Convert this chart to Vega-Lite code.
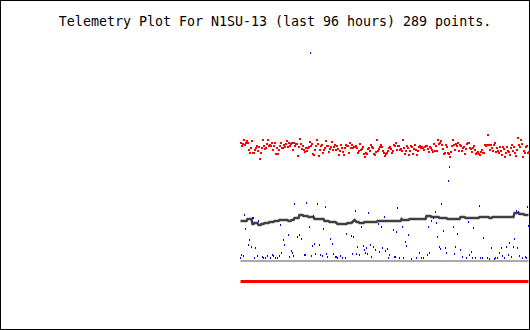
{
"$schema": "https://vega.github.io/schema/vega-lite/v6.json",
"width": 530, "height": 330, "autosize": {"type": "none"}, "padding": 0,
"background": "white",
"config": {"view": {"stroke": "black", "strokeWidth": 2}},
"title": {"text": "Telemetry Plot For N1SU-13 (last 96 hours) 289 points.", "font": "DejaVu Sans Mono", "fontSize": 13.3, "fontWeight": "normal", "color": "black", "anchor": "middle", "dx": 10, "dy": 17, "offset": -22, "baseline": "alphabetic"},
"datasets": {
"lvl": [{"n":0,"g":261,"z":281.5},{"n":288,"g":261,"z":281.5}],
"tele": [
{"n":0,"r":143,"b":258,"d":221},{"n":1,"r":146,"b":255,"d":221},{"n":2,"r":144,"b":261,"d":221},{"n":3,"r":140,"b":256,"d":221},{"n":4,"r":145,"b":215,"d":221},{"n":5,"r":143,"b":229,"d":221},{"n":6,"r":141,"b":261,"d":221},{"n":7,"r":143,"b":261,"d":219},{"n":8,"r":150,"b":245,"d":219},{"n":9,"r":153,"b":240,"d":219},
{"n":10,"r":148,"b":261,"d":219},{"n":11,"r":141,"b":247,"d":219},{"n":12,"r":153,"b":218,"d":224},{"n":13,"r":153,"b":218,"d":224},{"n":14,"r":150,"b":258,"d":223},{"n":15,"r":148,"b":248,"d":223},{"n":16,"r":146,"b":261,"d":223},{"n":17,"r":151,"b":256,"d":223},{"n":18,"r":147,"b":221,"d":225},{"n":19,"r":159,"b":261,"d":225},
{"n":20,"r":153,"b":261,"d":225},{"n":21,"r":148,"b":261,"d":224},{"n":22,"r":140,"b":257,"d":224},{"n":23,"r":146,"b":258,"d":224},{"n":24,"r":149,"b":261,"d":223},{"n":25,"r":148,"b":258,"d":223},{"n":26,"r":144,"b":261,"d":223},{"n":27,"r":140,"b":256,"d":223},{"n":28,"r":146,"b":261,"d":223},{"n":29,"r":145,"b":261,"d":222},
{"n":30,"r":146,"b":258,"d":222},{"n":31,"r":143,"b":261,"d":222},{"n":32,"r":150,"b":255,"d":222},{"n":33,"r":146,"b":256,"d":222},{"n":34,"r":143,"b":261,"d":221},{"n":35,"r":154,"b":258,"d":221},{"n":36,"r":148,"b":261,"d":221},{"n":37,"r":154,"b":258,"d":221},{"n":38,"r":150,"b":261,"d":221},{"n":39,"r":146,"b":256,"d":220},
{"n":40,"r":143,"b":225,"d":220},{"n":41,"r":148,"b":253,"d":220},{"n":42,"r":148,"b":261,"d":220},{"n":43,"r":145,"b":240,"d":220},{"n":44,"r":147,"b":245,"d":220},{"n":45,"r":144,"b":261,"d":220},{"n":46,"r":141,"b":261,"d":220},{"n":47,"r":147,"b":261,"d":220},{"n":48,"r":143,"b":235,"d":221},{"n":49,"r":146,"b":257,"d":221},
{"n":50,"r":144,"b":261,"d":221},{"n":51,"r":143,"b":251,"d":220},{"n":52,"r":150,"b":253,"d":220},{"n":53,"r":143,"b":256,"d":220},{"n":54,"r":146,"b":204,"d":218},{"n":55,"r":144,"b":261,"d":218},{"n":56,"r":144,"b":261,"d":218},{"n":57,"r":156,"b":237,"d":218},{"n":58,"r":147,"b":261,"d":218},{"n":59,"r":139,"b":235,"d":215},
{"n":60,"r":144,"b":261,"d":215},{"n":61,"r":149,"b":239,"d":215},{"n":62,"r":146,"b":261,"d":215},{"n":63,"r":150,"b":261,"d":216},{"n":64,"r":152,"b":255,"d":216},{"n":65,"r":148,"b":255,"d":216},{"n":66,"r":151,"b":203,"d":216},{"n":67,"r":148,"b":261,"d":216},{"n":68,"r":147,"b":261,"d":217},{"n":69,"r":142,"b":227,"d":217},
{"n":70,"r":146,"b":53,"d":217},{"n":71,"r":144,"b":256,"d":217},{"n":72,"r":154,"b":246,"d":217},{"n":73,"r":155,"b":216,"d":217},{"n":74,"r":150,"b":244,"d":219},{"n":75,"r":146,"b":254,"d":219},{"n":76,"r":140,"b":261,"d":219},{"n":77,"r":144,"b":204,"d":219},{"n":78,"r":156,"b":261,"d":219},{"n":79,"r":150,"b":245,"d":219},
{"n":80,"r":146,"b":255,"d":219},{"n":81,"r":145,"b":261,"d":219},{"n":82,"r":153,"b":256,"d":219},{"n":83,"r":150,"b":229,"d":219},{"n":84,"r":148,"b":261,"d":221},{"n":85,"r":141,"b":207,"d":221},{"n":86,"r":146,"b":254,"d":221},{"n":87,"r":146,"b":257,"d":221},{"n":88,"r":152,"b":261,"d":221},{"n":89,"r":149,"b":261,"d":222},
{"n":90,"r":147,"b":239,"d":222},{"n":91,"r":142,"b":261,"d":222},{"n":92,"r":150,"b":244,"d":222},{"n":93,"r":147,"b":254,"d":222},{"n":94,"r":145,"b":261,"d":222},{"n":95,"r":150,"b":257,"d":222},{"n":96,"r":146,"b":257,"d":223},{"n":97,"r":149,"b":258,"d":224},{"n":98,"r":155,"b":261,"d":224},{"n":99,"r":151,"b":261,"d":224},
{"n":100,"r":145,"b":256,"d":224},{"n":101,"r":148,"b":261,"d":224},{"n":102,"r":152,"b":258,"d":224},{"n":103,"r":155,"b":261,"d":224},{"n":104,"r":148,"b":261,"d":224},{"n":105,"r":145,"b":258,"d":224},{"n":106,"r":146,"b":234,"d":224},{"n":107,"r":146,"b":261,"d":223},{"n":108,"r":153,"b":261,"d":223},{"n":109,"r":143,"b":261,"d":223},
{"n":110,"r":148,"b":261,"d":223},{"n":111,"r":145,"b":236,"d":223},{"n":112,"r":148,"b":254,"d":222},{"n":113,"r":147,"b":237,"d":221},{"n":114,"r":147,"b":261,"d":220},{"n":115,"r":146,"b":211,"d":221},{"n":116,"r":148,"b":254,"d":222},{"n":117,"r":153,"b":247,"d":222},{"n":118,"r":151,"b":261,"d":222},{"n":119,"r":144,"b":255,"d":223},
{"n":120,"r":150,"b":261,"d":223},{"n":121,"r":149,"b":227,"d":223},{"n":122,"r":147,"b":261,"d":223},{"n":123,"r":154,"b":246,"d":223},{"n":124,"r":157,"b":250,"d":222},{"n":125,"r":153,"b":253,"d":222},{"n":126,"r":154,"b":248,"d":222},{"n":127,"r":149,"b":254,"d":222},{"n":128,"r":148,"b":213,"d":222},{"n":129,"r":151,"b":261,"d":222},
{"n":130,"r":145,"b":245,"d":222},{"n":131,"r":147,"b":257,"d":222},{"n":132,"r":148,"b":261,"d":222},{"n":133,"r":154,"b":247,"d":222},{"n":134,"r":155,"b":261,"d":222},{"n":135,"r":152,"b":250,"d":222},{"n":136,"r":140,"b":261,"d":222},{"n":137,"r":151,"b":261,"d":221},{"n":138,"r":149,"b":224,"d":221},{"n":139,"r":147,"b":252,"d":221},
{"n":140,"r":145,"b":261,"d":221},{"n":141,"r":147,"b":227,"d":221},{"n":142,"r":151,"b":248,"d":221},{"n":143,"r":153,"b":261,"d":221},{"n":144,"r":156,"b":217,"d":221},{"n":145,"r":154,"b":251,"d":221},{"n":146,"r":153,"b":261,"d":221},{"n":147,"r":151,"b":249,"d":221},{"n":148,"r":148,"b":258,"d":221},{"n":149,"r":147,"b":255,"d":221},
{"n":150,"r":149,"b":261,"d":221},{"n":151,"r":153,"b":261,"d":221},{"n":152,"r":151,"b":261,"d":221},{"n":153,"r":145,"b":230,"d":221},{"n":154,"r":146,"b":257,"d":221},{"n":155,"r":143,"b":257,"d":221},{"n":156,"r":150,"b":232,"d":221},{"n":157,"r":146,"b":208,"d":221},{"n":158,"r":146,"b":261,"d":221},{"n":159,"r":150,"b":258,"d":221},
{"n":160,"r":149,"b":261,"d":221},{"n":161,"r":151,"b":261,"d":219},{"n":162,"r":140,"b":227,"d":220},{"n":163,"r":148,"b":258,"d":220},{"n":164,"r":154,"b":261,"d":220},{"n":165,"r":151,"b":242,"d":220},{"n":166,"r":146,"b":246,"d":220},{"n":167,"r":148,"b":261,"d":220},{"n":168,"r":155,"b":235,"d":220},{"n":169,"r":151,"b":261,"d":219},
{"n":170,"r":146,"b":261,"d":219},{"n":171,"r":147,"b":259,"d":219},{"n":172,"r":154,"b":261,"d":219},{"n":173,"r":149,"b":261,"d":219},{"n":174,"r":145,"b":261,"d":219},{"n":175,"r":150,"b":261,"d":219},{"n":176,"r":155,"b":258,"d":219},{"n":177,"r":151,"b":261,"d":219},{"n":178,"r":147,"b":261,"d":219},{"n":179,"r":146,"b":253,"d":219},
{"n":180,"r":148,"b":261,"d":219},{"n":181,"r":147,"b":258,"d":219},{"n":182,"r":148,"b":261,"d":219},{"n":183,"r":150,"b":258,"d":219},{"n":184,"r":147,"b":261,"d":219},{"n":185,"r":146,"b":261,"d":219},{"n":186,"r":146,"b":261,"d":216},{"n":187,"r":149,"b":255,"d":216},{"n":188,"r":152,"b":227,"d":216},{"n":189,"r":147,"b":253,"d":216},
{"n":190,"r":148,"b":261,"d":216},{"n":191,"r":150,"b":221,"d":217},{"n":192,"r":152,"b":261,"d":217},{"n":193,"r":144,"b":218,"d":217},{"n":194,"r":151,"b":261,"d":217},{"n":195,"r":146,"b":212,"d":217},{"n":196,"r":151,"b":223,"d":217},{"n":197,"r":140,"b":237,"d":217},{"n":198,"r":144,"b":261,"d":217},{"n":199,"r":143,"b":247,"d":218},
{"n":200,"r":141,"b":249,"d":218},{"n":201,"r":145,"b":204,"d":218},{"n":202,"r":149,"b":261,"d":218},{"n":203,"r":154,"b":231,"d":218},{"n":204,"r":153,"b":261,"d":218},{"n":205,"r":145,"b":248,"d":218},{"n":206,"r":147,"b":253,"d":218},{"n":207,"r":153,"b":261,"d":219},{"n":208,"r":154,"b":181,"d":219},{"n":209,"r":157,"b":167,"d":219},
{"n":210,"r":152,"b":261,"d":219},{"n":211,"r":146,"b":261,"d":219},{"n":212,"r":140,"b":261,"d":219},{"n":213,"r":145,"b":227,"d":219},{"n":214,"r":150,"b":254,"d":219},{"n":215,"r":144,"b":247,"d":219},{"n":216,"r":146,"b":261,"d":219},{"n":217,"r":143,"b":234,"d":219},{"n":218,"r":151,"b":261,"d":219},{"n":219,"r":145,"b":261,"d":219},
{"n":220,"r":146,"b":250,"d":217},{"n":221,"r":151,"b":261,"d":217},{"n":222,"r":148,"b":257,"d":217},{"n":223,"r":147,"b":261,"d":217},{"n":224,"r":154,"b":261,"d":217},{"n":225,"r":149,"b":261,"d":218},{"n":226,"r":144,"b":258,"d":218},{"n":227,"r":143,"b":261,"d":218},{"n":228,"r":143,"b":222,"d":218},{"n":229,"r":148,"b":255,"d":218},
{"n":230,"r":149,"b":261,"d":218},{"n":231,"r":152,"b":252,"d":218},{"n":232,"r":148,"b":258,"d":218},{"n":233,"r":146,"b":228,"d":218},{"n":234,"r":150,"b":261,"d":218},{"n":235,"r":154,"b":258,"d":218},{"n":236,"r":153,"b":261,"d":218},{"n":237,"r":152,"b":261,"d":218},{"n":238,"r":154,"b":261,"d":218},{"n":239,"r":155,"b":206,"d":217},
{"n":240,"r":152,"b":258,"d":217},{"n":241,"r":150,"b":261,"d":217},{"n":242,"r":153,"b":258,"d":217},{"n":243,"r":153,"b":238,"d":217},{"n":244,"r":145,"b":261,"d":217},{"n":245,"r":146,"b":261,"d":217},{"n":246,"r":145,"b":261,"d":217},{"n":247,"r":135,"b":258,"d":217},{"n":248,"r":145,"b":261,"d":217},{"n":249,"r":150,"b":259,"d":218},
{"n":250,"r":145,"b":261,"d":218},{"n":251,"r":148,"b":248,"d":218},{"n":252,"r":151,"b":261,"d":217},{"n":253,"r":145,"b":261,"d":217},{"n":254,"r":143,"b":259,"d":217},{"n":255,"r":152,"b":258,"d":217},{"n":256,"r":148,"b":261,"d":217},{"n":257,"r":151,"b":258,"d":217},{"n":258,"r":153,"b":261,"d":217},{"n":259,"r":147,"b":253,"d":217},
{"n":260,"r":151,"b":261,"d":217},{"n":261,"r":155,"b":248,"d":217},{"n":262,"r":147,"b":256,"d":217},{"n":263,"r":149,"b":261,"d":217},{"n":264,"r":157,"b":258,"d":217},{"n":265,"r":153,"b":261,"d":217},{"n":266,"r":147,"b":247,"d":217},{"n":267,"r":151,"b":261,"d":217},{"n":268,"r":152,"b":255,"d":217},{"n":269,"r":155,"b":243,"d":217},
{"n":270,"r":148,"b":261,"d":217},{"n":271,"r":145,"b":257,"d":217},{"n":272,"r":151,"b":261,"d":217},{"n":273,"r":147,"b":247,"d":217},{"n":274,"r":153,"b":239,"d":213},{"n":275,"r":156,"b":261,"d":213},{"n":276,"r":150,"b":211,"d":213},{"n":277,"r":138,"b":248,"d":213},{"n":278,"r":145,"b":212,"d":213},{"n":279,"r":147,"b":256,"d":214},
{"n":280,"r":140,"b":261,"d":214},{"n":281,"r":144,"b":261,"d":214},{"n":282,"r":157,"b":258,"d":214},{"n":283,"r":151,"b":261,"d":214},{"n":284,"r":153,"b":261,"d":215},{"n":285,"r":147,"b":257,"d":215},{"n":286,"r":146,"b":258,"d":215},{"n":287,"r":153,"b":207,"d":215},{"n":288,"r":152,"b":226,"d":215}
]},
"layer": [
{"data": {"name": "tele"}, "mark": {"type": "line", "color": "#404040", "strokeWidth": 2.5},
 "encoding": {"x": {"field": "n", "type": "quantitative", "scale": {"domain": [-240.5, 289.5], "nice": false, "zero": false}, "axis": null},
  "y": {"field": "d", "type": "quantitative", "scale": {"domain": [330, 0], "nice": false, "zero": false}, "axis": null}}},
{"data": {"name": "tele"}, "mark": {"type": "square", "color": "#ff0000", "size": 4, "opacity": 1, "filled": true, "xOffset": 0.5},
 "encoding": {"x": {"field": "n", "type": "quantitative"}, "y": {"field": "r", "type": "quantitative"}}},
{"data": {"name": "tele"}, "mark": {"type": "tick", "color": "#0000ff", "orient": "vertical", "size": 2, "thickness": 1, "opacity": 1},
 "encoding": {"x": {"field": "n", "type": "quantitative"}, "y": {"field": "b", "type": "quantitative"}}},
{"data": {"name": "lvl"}, "mark": {"type": "line", "color": "#aaaaaa", "strokeWidth": 2},
 "encoding": {"x": {"field": "n", "type": "quantitative"}, "y": {"field": "g", "type": "quantitative"}}},
{"data": {"name": "lvl"}, "mark": {"type": "line", "color": "#ff0000", "strokeWidth": 3},
 "encoding": {"x": {"field": "n", "type": "quantitative"}, "y": {"field": "z", "type": "quantitative"}}}
]
}
